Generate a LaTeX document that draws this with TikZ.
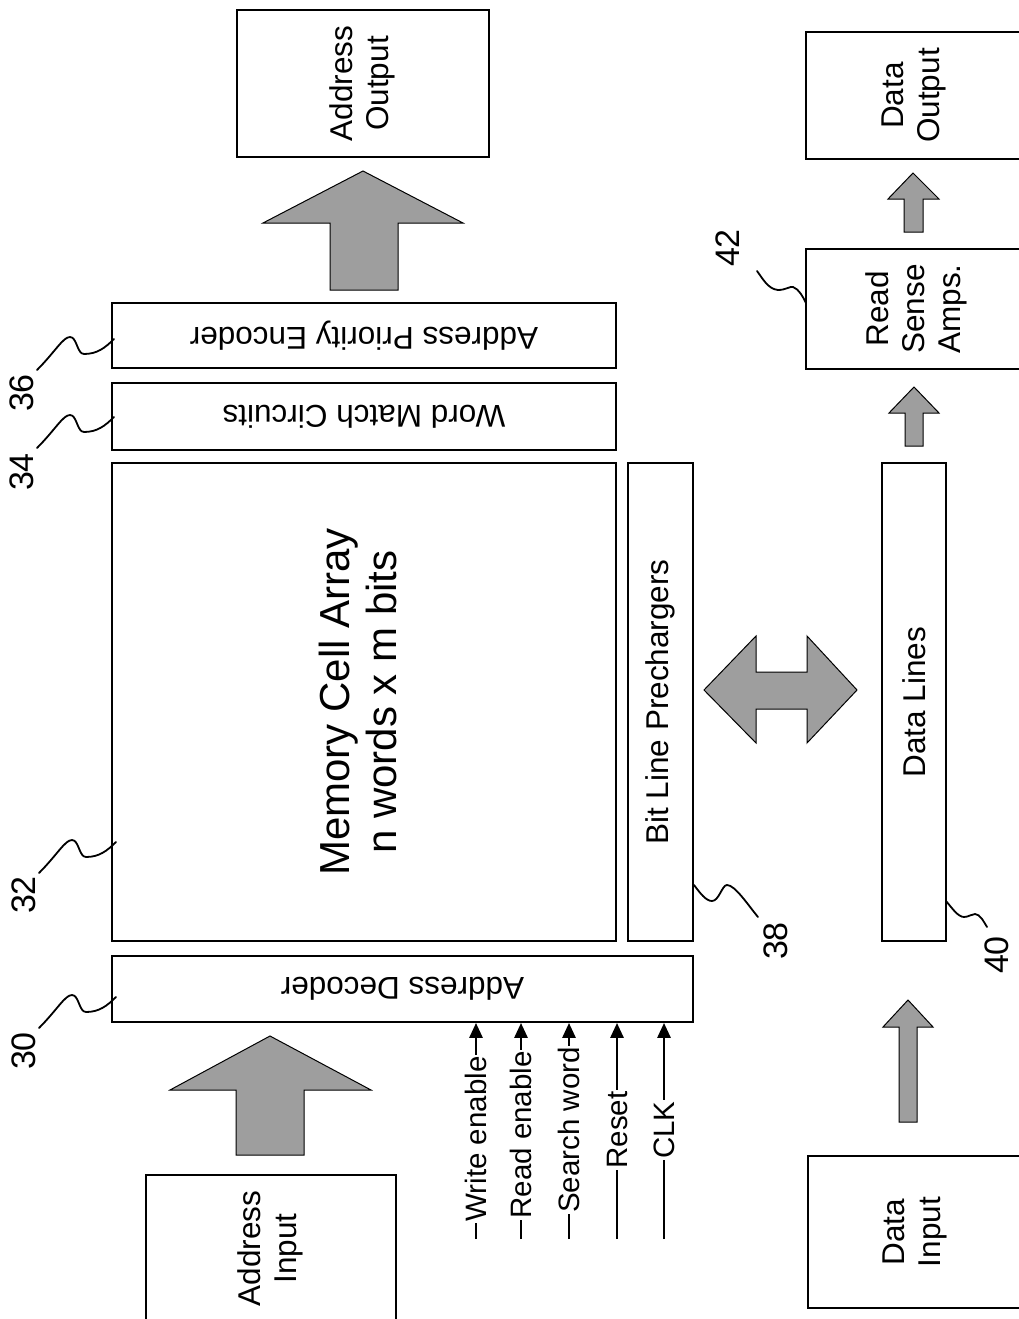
\documentclass[tikz,border=0pt]{standalone}
\usepackage{fontspec}
\setmainfont{Liberation Sans}
\usepackage{graphicx}
\usetikzlibrary{arrows.meta}
\newcommand{\rotlines}[1]{\rotatebox{90}{\begin{tabular}{@{}c@{}}#1\end{tabular}}}
\newcommand{\flipped}[1]{\rotatebox{180}{#1}}
\tikzset{
  box/.style={draw=black, line width=1.8pt, fill=white, inner sep=0pt},
  lbl/.style={font=\fontsize{31.5}{36}\selectfont},
  biglbl/.style={font=\fontsize{42}{47}\selectfont},
  fat/.style={draw=black, line width=1pt, fill=black!38},
  sig/.style={line width=2.8pt, -{Triangle[length=15pt,width=13pt]}},
  sigtext/.style={rotate=90, fill=white, inner xsep=1.5pt, inner ysep=0pt, font=\fontsize{29.5}{33}\selectfont},
  refnum/.style={rotate=90, inner sep=0pt, font=\fontsize{34}{40}\selectfont},
  lead/.style={line width=1.8pt, line cap=round},
  lsq/.pic={\draw[lead] (0,0) .. controls (18,-18) and (26,-33) .. (33,-33) .. controls (40,-33) and (40,-16) .. (47,-16) .. controls (60,-16) and (68,-22) .. (77,-31);}
}
\begin{document}
\begin{tikzpicture}[x=1pt,y=-1pt]
\useasboundingbox (0,0) rectangle (1019,1319);
\fill[white] (0,0) rectangle (1019,1319);
\clip (0,0) rectangle (1019,1319);

% ---- left column boxes ----
\node[box, lbl, minimum width=252pt, minimum height=147pt] (aout) at (363,83.5) {\rotlines{Address\\Output}};
\node[box, lbl, minimum width=504pt, minimum height=65pt] (enc) at (364,335.5) {\flipped{Address Priority Encoder}};
\node[box, lbl, minimum width=504pt, minimum height=67pt] (wmc) at (364,416.5) {\flipped{Word Match Circuits}};
\node[box, biglbl, minimum width=504pt, minimum height=478pt] (mem) at (364,702) {\rotlines{Memory Cell Array\\n words x m bits}};
\node[box, lbl, minimum width=65pt, minimum height=478pt] (blp) at (660.5,702) {\rotatebox{90}{Bit Line Prechargers}};
\node[box, lbl, minimum width=581pt, minimum height=66pt] (dec) at (402.5,989) {\flipped{Address Decoder}};
\node[box, lbl, minimum width=250pt, minimum height=147pt] (ain) at (271,1248.5) {\rotlines{Address\\Input}};

% ---- right column boxes ----
\node[box, lbl, minimum width=216pt, minimum height=127pt] (dout) at (914,95.5) {\rotlines{Data\\Output}};
\node[box, lbl, minimum width=222pt, minimum height=120pt] (rsa) at (917,309) {\rotlines{Read\\Sense\\Amps.}};
\node[box, lbl, minimum width=64pt, minimum height=478pt] (dl) at (914,702) {\rotatebox{90}{Data Lines}};
\node[box, lbl, minimum width=214pt, minimum height=152pt] (din) at (915,1232) {\rotlines{Data\\Input}};

% ---- wide arrows ----
\draw[fat] (330,290) -- (330,223) -- (263,223) -- (363,171) -- (463,223) -- (398,223) -- (398,290) -- cycle;
\draw[fat] (236,1155) -- (236,1090) -- (170,1090) -- (270,1036) -- (371,1090) -- (304,1090) -- (304,1155) -- cycle;
\draw[fat] (904,232) -- (904,199) -- (888,199) -- (913,173) -- (939,199) -- (923,199) -- (923,232) -- cycle;
\draw[fat] (905,446) -- (905,413) -- (889,413) -- (914,387) -- (939,413) -- (923,413) -- (923,446) -- cycle;
\draw[fat] (899,1122) -- (899,1027) -- (883,1027) -- (908,1000) -- (933,1027) -- (917,1027) -- (917,1122) -- cycle;
\draw[fat] (704,690) -- (756,636) -- (756,672) -- (807,672) -- (807,636) -- (857,690) -- (807,743) -- (807,709) -- (756,709) -- (756,743) -- cycle;

% ---- control signals ----
\coordinate (cw) at (476,1239);
\coordinate (cr) at (521,1239);
\coordinate (cs) at (569,1239);
\coordinate (crs) at (617,1239);
\coordinate (cc) at (664,1239);
\draw[sig] (cw) -- (cw |- dec.south);
\draw[sig] (cr) -- (cr |- dec.south);
\draw[sig] (cs) -- (cs |- dec.south);
\draw[sig] (crs) -- (crs |- dec.south);
\draw[sig] (cc) -- (cc |- dec.south);
\node[sigtext] (tw) at (476,1139) {Write enable};
\node[sigtext] (tr) at (521,1135) {Read enable};
\node[sigtext] (ts) at (569,1130) {Search word};
\node[sigtext] (trs) at (617,1130) {Reset};
\node[sigtext] (tc) at (664,1130) {CLK};

% ---- reference numerals ----
\node[refnum] (n36) at (22,393) {36};
\node[refnum] (n34) at (22,472) {34};
\node[refnum] (n32) at (24,895) {32};
\node[refnum] (n30) at (24,1051) {30};
\node[refnum] (n38) at (776,941) {38};
\node[refnum] (n40) at (997,955) {40};
\node[refnum] (n42) at (728,248) {42};

\pic at (37,370) {lsq};
\pic at (37,448) {lsq};
\pic at (39,873) {lsq};
\pic at (39,1028) {lsq};
\draw[lead] (694,885) .. controls (700,893) and (706,901) .. (712,901) .. controls (719,901) and (722,885) .. (727,885) .. controls (735,885) and (748,905) .. (758,917);
\draw[lead] (946,901) .. controls (952,908) and (958,917) .. (964,917) .. controls (969,917) and (971,914) .. (975,914) .. controls (980,914) and (984,922) .. (987,927);
\draw[lead] (757,271) .. controls (763,279) and (768,289) .. (778,290) .. controls (786,290) and (790,286) .. (793,287) .. controls (799,289) and (803,297) .. (806,303);
\end{tikzpicture}
\end{document}
